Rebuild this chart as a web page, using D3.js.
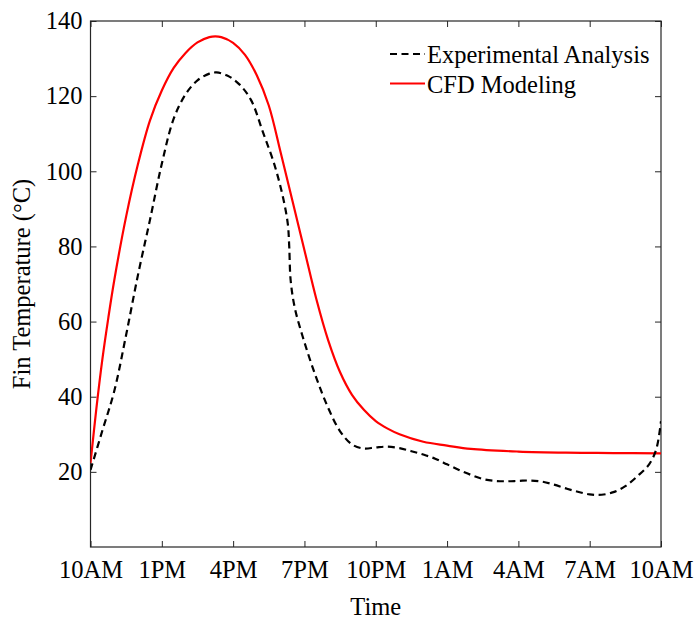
<!DOCTYPE html>
<html><head><meta charset="utf-8">
<script src="https://cdn.jsdelivr.net/npm/d3@7"></script>
<style>body{margin:0;background:#fff}</style>
</head><body>
<svg id="c" width="696" height="619"></svg>
<script>
// Data (hours after 10AM, temperature °C)
const xTickHours = [0,3,6,9,12,15,18,21,24];
const xTickLabels = ["10AM","1PM","4PM","7PM","10PM","1AM","4AM","7AM","10AM"];
const yTicks = [20,40,60,80,100,120,140];

const cfdHours = [0,0.25,0.5,0.75,1,1.5,2,2.5,3,3.5,4,4.5,5,5.25,5.5,6,6.5,7,7.5,8,8.5,9,9.5,10,10.5,11,11.5,12,12.5,13,14,15,16,18,20,22,24];
const cfdTemp  = [22.3,37,50,61,71,88,102,113.5,121.5,127.5,131.5,134.3,135.7,135.9,135.7,134.2,131,125.5,117.5,105,92,79,66,55,46.5,40.5,36.5,33.5,31.5,30,28,27,26.1,25.4,25.1,25,24.9];

const expHours = [0,0.5,1,1.5,2,2.5,3,3.5,4,4.5,5,5.3,5.75,6.25,6.75,7.25,7.75,8.1,8.3,8.36,8.42,8.6,9,9.5,10,10.5,11,11.5,12,12.5,13,13.5,14,14.5,15,15.5,16,16.5,17,17.5,18,18.5,19,19.5,20,20.5,21,21.5,22,22.5,23,23.5,23.8,24];
const expTemp  = [20.5,31,41.5,56.5,72.5,87,102,114,120.5,124.2,126,126.3,125.5,123.2,119,110.5,101.5,93,86,80,71,63.5,54.5,45,37,30.8,27.3,26.2,26.5,26.7,26.3,25.5,24.6,23.5,22,20.5,19.2,18.1,17.6,17.5,17.6,17.7,17.4,16.6,15.6,14.7,14.0,13.9,14.6,16.2,18.8,22,26,33.5];

const seriesNames = ["Experimental Analysis","CFD Modeling"];

const svg = d3.select("#c");
const L = 90.5, R = 661, T = 21, B = 547;
const x = d3.scaleLinear().domain([0,24]).range([L,R]);
const y = d3.scaleLinear().domain([0,140]).range([B,T]);
const font = "'Liberation Serif','Times New Roman',serif";
const axisColor = "#262626";
const fs = "24.5px";

svg.append("defs").append("clipPath").attr("id","clip")
  .append("rect").attr("x",L).attr("y",T).attr("width",R-L).attr("height",B-T);

// Axes with inward ticks
const tl = 6;
const gx = svg.append("g").attr("transform",`translate(0,${B})`)
  .call(d3.axisBottom(x).tickValues(xTickHours).tickSizeInner(-tl).tickSizeOuter(0).tickPadding(14)
    .tickFormat((d,i)=>xTickLabels[i]));
const gxt = svg.append("g").attr("transform",`translate(0,${T})`)
  .call(d3.axisTop(x).tickValues(xTickHours).tickSizeInner(-tl).tickSizeOuter(0).tickFormat(""));
const gy = svg.append("g").attr("transform",`translate(${L},0)`)
  .call(d3.axisLeft(y).tickValues(yTicks).tickSizeInner(-tl).tickSizeOuter(0).tickPadding(8));
const gyr = svg.append("g").attr("transform",`translate(${R},0)`)
  .call(d3.axisRight(y).tickValues(yTicks).tickSizeInner(-tl).tickSizeOuter(0).tickFormat(""));
[gx,gxt,gy,gyr].forEach(g=>{
  g.select(".domain").remove();
  g.selectAll("line").attr("stroke",axisColor).attr("stroke-width",1);
  g.selectAll("text").attr("fill","#000").style("font-family",font).style("font-size",fs);
});
svg.append("rect").attr("x",L).attr("y",T).attr("width",R-L).attr("height",B-T)
  .attr("fill","none").attr("stroke",axisColor).attr("stroke-width",1.2);

// Lines
const line = d3.line().x(d=>x(d[0])).y(d=>y(d[1])).curve(d3.curveCatmullRom.alpha(0.5));
const cfd = cfdHours.map((h,i)=>[h,cfdTemp[i]]);
const exp = expHours.map((h,i)=>[h,expTemp[i]]);
const plot = svg.append("g").attr("clip-path","url(#clip)");
plot.append("path").datum(cfd).attr("d",line).attr("fill","none")
  .attr("stroke","#ff0000").attr("stroke-width",2.2);
plot.append("path").datum(exp).attr("d",line).attr("fill","none")
  .attr("stroke","#000").attr("stroke-width",2.2).attr("stroke-dasharray","7,4.5");

// Legend
const lg = svg.append("g");
lg.append("line").attr("x1",390).attr("x2",425).attr("y1",54).attr("y2",54)
  .attr("stroke","#000").attr("stroke-width",2.2).attr("stroke-dasharray","7,4.5");
lg.append("text").attr("x",427).attr("y",63).text(seriesNames[0])
  .style("font-family",font).style("font-size",fs);
lg.append("line").attr("x1",390).attr("x2",425).attr("y1",83.5).attr("y2",83.5)
  .attr("stroke","#ff0000").attr("stroke-width",2.2);
lg.append("text").attr("x",427).attr("y",93).text(seriesNames[1])
  .style("font-family",font).style("font-size",fs);

// Axis labels
svg.append("text").attr("x",(L+R)/2).attr("y",615).attr("text-anchor","middle")
  .text("Time").style("font-family",font).style("font-size",fs);
svg.append("text").attr("transform",`translate(30,${(T+B)/2}) rotate(-90)`).attr("text-anchor","middle")
  .text("Fin Temperature (°C)").style("font-family",font).style("font-size",fs);
</script>
</body></html>
